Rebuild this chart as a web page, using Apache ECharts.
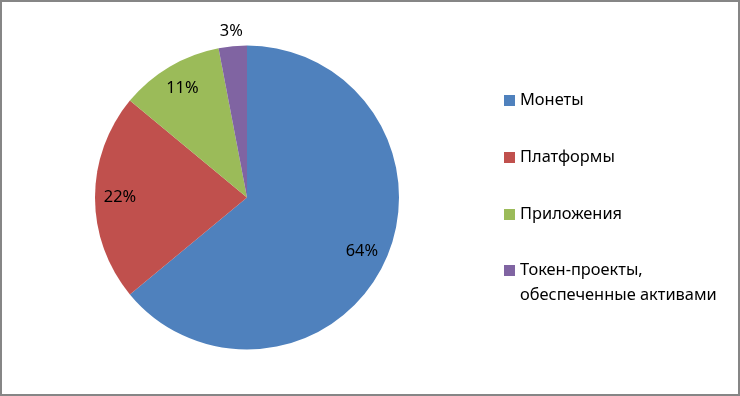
<!DOCTYPE html>
<html>
<head>
<meta charset="utf-8">
<script src="https://cdn.jsdelivr.net/npm/echarts@6/dist/echarts.min.js"></script>
<style>
html,body{margin:0;padding:0;background:#fff;}
#c{width:740px;height:396px;}
</style>
</head>
<body>
<div id="c"></div>
<script>
const categories = ['Монеты', 'Платформы', 'Приложения', 'Токен-проекты, обеспеченные активами'];
const values = [64, 22, 11, 3];
const labels = ['64%', '22%', '11%', '3%'];
const colors = ['#4F81BD', '#C0504D', '#9BBB59', '#8064A2'];
const outsideLabel = [false, false, false, true];

const FONT = 'Noto Sans';
const FS = 16.4;
const center = [247, 197.5];
const R = 152;

const chart = echarts.init(document.getElementById('c'), null, {renderer: 'canvas'});

const mainData = categories.map((n, i) => ({name: n, value: values[i], itemStyle: {color: colors[i]}}));
const innerLabelData = categories.map((n, i) => ({
  name: n, value: values[i],
  label: {show: !outsideLabel[i], formatter: labels[i]}
}));
const outerLabelData = categories.map((n, i) => ({
  name: n, value: values[i],
  label: {show: outsideLabel[i], formatter: labels[i]}
}));

const overlayBase = {
  type: 'pie', center: center, startAngle: 90, clockwise: true,
  silent: true, legendHoverLink: false, animation: false,
  itemStyle: {color: 'rgba(0,0,0,0)', borderWidth: 0},
  emphasis: {disabled: true},
  labelLine: {show: false},
  tooltip: {show: false}
};
const labelStyle = {position: 'inside', color: '#000', fontFamily: FONT, fontSize: FS};

const legendText = {fontFamily: FONT, fontSize: FS, color: '#000', lineHeight: 25};

chart.setOption({
  animation: false,
  backgroundColor: '#fff',
  graphic: [{
    type: 'rect', silent: true, z: 100,
    shape: {x: 1, y: 1, width: 738, height: 394},
    style: {fill: 'none', stroke: '#868686', lineWidth: 2}
  }],
  legend: [{
    orient: 'vertical', left: 504, top: 88, padding: 0,
    data: categories.slice(0, 3),
    itemWidth: 11, itemHeight: 11, itemGap: 32,
    icon: 'rect',
    selectedMode: false,
    textStyle: legendText
  }, {
    orient: 'vertical', left: 504, top: 233, padding: 0,
    data: categories.slice(3),
    itemWidth: 11, itemHeight: 11,
    icon: 'rect',
    selectedMode: false,
    formatter: function (n) { return '\n' + n.replace(', ', ',\n'); },
    textStyle: legendText
  }],
  series: [{
    type: 'pie', center: center, radius: [0, R], startAngle: 90, clockwise: true,
    data: mainData,
    label: {show: false}, labelLine: {show: false},
    itemStyle: {borderWidth: 0},
    emphasis: {disabled: true}
  }, Object.assign({}, overlayBase, {
    radius: [96, R], data: innerLabelData, label: labelStyle
  }), Object.assign({}, overlayBase, {
    radius: [R, 176], data: outerLabelData, label: labelStyle
  })]
});
</script>
</body>
</html>
